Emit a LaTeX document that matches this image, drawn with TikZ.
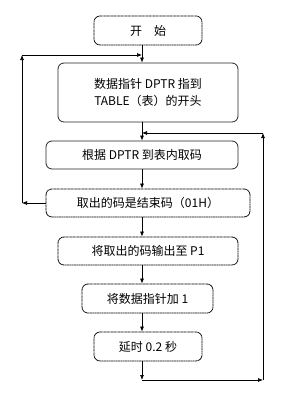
\documentclass[tikz,border=0pt]{standalone}
\usepackage{fontspec}
\setmainfont{Noto Sans CJK SC}
\usepackage{tikz}
\usetikzlibrary{arrows.meta,positioning}
\tikzset{
  stepbase/.style={rounded corners=6pt, line width=0.8pt, align=center,
    inner sep=2pt, font=\fontsize{12}{17.5}\selectfont},
  solidbox/.style={stepbase, draw=black!85},
  dotbox/.style={stepbase, draw=black, dash pattern=on 1pt off 0.4pt},
  flow/.style={line width=0.7pt, -{Latex[length=5pt,width=4pt]}}
}

\begin{document}
\begin{tikzpicture}[x=1pt,y=-1pt]
  \useasboundingbox (0,0) rectangle (295,405);
  % spine of the chart
  \coordinate (spine) at (142,0);

  % steps
  \node[dotbox, minimum width=108pt, minimum height=29pt] (start) at (148,30.5) {开\quad 始};
  \node[solidbox, minimum width=180pt, minimum height=59pt] (init) at (148,92.5)
    {数据指针 DPTR 指到\\TABLE（表）的开头};
  \node[solidbox, minimum width=192pt, minimum height=28pt] (fetch) at (142,155)
    {根据 DPTR 到表内取码};
  \node[dotbox, minimum width=204pt, minimum height=28pt] (check) at (148,203)
    {取出的码是结束码（01H）};
  \node[dotbox, minimum width=180pt, minimum height=28pt] (output) at (148,251)
    {将取出的码输出至 P1};
  \node[dotbox, minimum width=131pt, minimum height=29pt] (incr) at (147.5,298.5)
    {将数据指针加 1};
  \node[dotbox, minimum width=108pt, minimum height=29pt] (delay) at (148,346.5)
    {延时 0.2 秒};

  % loop points
  \coordinate (lbot) at (22,203);
  \coordinate (ltop) at (22,55);
  \coordinate (ljoin) at (142,55);
  \coordinate (rdown) at (142,380);
  \coordinate (rbot) at (263,380);
  \coordinate (rtop) at (263,133);
  \coordinate (rjoin) at (142,133);

  % main flow
  \draw[flow] (start.south -| spine) -- (init.north -| spine);
  \draw[flow] (init.south -| spine) -- (fetch.north -| spine);
  \draw[flow] (fetch.south -| spine) -- (check.north -| spine);
  \draw[flow] (check.south -| spine) -- (output.north -| spine);
  \draw[flow] (output.south -| spine) -- (incr.north -| spine);
  \draw[flow] (incr.south -| spine) -- (delay.north -| spine);

  % back to the start
  \draw[flow] (check.west) -- (lbot);
  \draw[flow] (lbot) -- (ltop);
  \draw[flow] (ltop) -- (ljoin);

  % next code
  \draw[flow] (delay.south -| spine) -- (rdown);
  \draw[flow] (rdown) -- (rbot);
  \draw[flow] (rbot) -- (rtop);
  \draw[flow] (rtop) -- (rjoin);
\end{tikzpicture}
\end{document}
